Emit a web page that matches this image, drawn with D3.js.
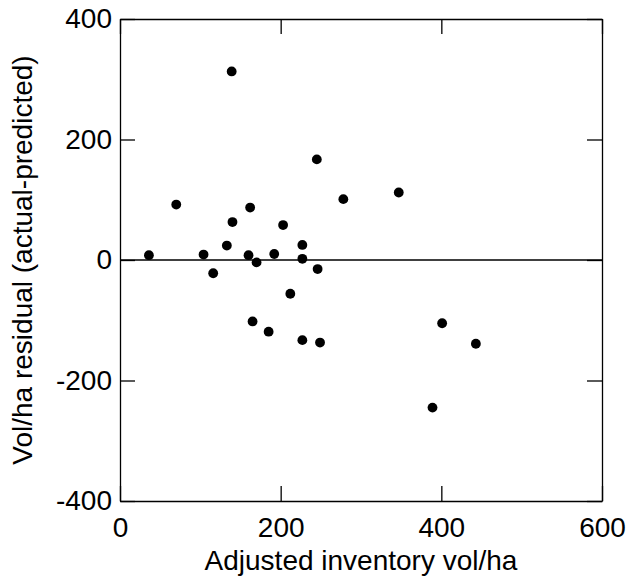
<!DOCTYPE html>
<html>
<head>
<meta charset="utf-8">
<script src="https://cdn.jsdelivr.net/npm/d3@7"></script>
<style>
  body { margin: 0; background: #fff; }
  svg text { font-family: "Liberation Sans", Arial, sans-serif; fill: #000; }
</style>
</head>
<body>
<script>
// adjusted inventory vol/ha (x) and residual actual-predicted (y)
var invVol = [36, 70, 104, 116, 133, 140, 139, 162, 160, 170, 192, 203, 227, 227, 245, 246, 212,
              278, 347, 165, 185, 227, 249, 401, 443, 389];
var residual = [8, 92, 9, -22, 24, 63, 313, 87, 8, -4, 10, 58, 25, 2, 167, -15, -56,
                101, 112, -102, -119, -133, -137, -105, -139, -245];

var xTicks = [0, 200, 400, 600];
var yTicks = [-400, -200, 0, 200, 400];

var width = 628,
    height = 580;
var margin = {top: 19, right: 26, bottom: 79, left: 120};

var svg = d3.select("body")
    .append("svg")
    .attr("width", width)
    .attr("height", height);

var x = d3.scaleLinear()
    .domain([0, 600])
    .range([margin.left, width - margin.right]);

var y = d3.scaleLinear()
    .domain([-400, 400])
    .range([height - margin.bottom, margin.top]);

//plain hyphen for negatives, like the original
var fmt = function(d){ return String(d); };

//axes, ticks pointing inward on all four sides
svg.append("g")
    .attr("transform", "translate(0," + y(-400) + ")")
    .call(d3.axisBottom(x).tickValues(xTicks).tickFormat(fmt).tickSize(-15).tickPadding(16).tickSizeOuter(0));

svg.append("g")
    .attr("transform", "translate(" + x(0) + ",0)")
    .call(d3.axisLeft(y).tickValues(yTicks).tickFormat(fmt).tickSize(-15).tickPadding(8).tickSizeOuter(0));

svg.append("g")
    .attr("transform", "translate(0," + y(400) + ")")
    .call(d3.axisTop(x).tickValues(xTicks).tickSize(-15).tickFormat("").tickSizeOuter(0));

svg.append("g")
    .attr("transform", "translate(" + x(600) + ",0)")
    .call(d3.axisRight(y).tickValues(yTicks).tickSize(-15).tickFormat("").tickSizeOuter(0));

svg.selectAll(".domain, .tick line")
    .attr("stroke", "#000")
    .attr("stroke-width", 1.3);

svg.selectAll(".tick text")
    .attr("font-size", 28)
    .attr("font-family", "Liberation Sans, Arial, sans-serif");

//zero line
svg.append("line")
    .attr("x1", x(0))
    .attr("x2", x(600))
    .attr("y1", y(0))
    .attr("y2", y(0))
    .attr("stroke", "#000")
    .attr("stroke-width", 1.3);

//points
svg.selectAll(".pt")
    .data(invVol)
    .enter()
    .append("circle")
    .attr("class", "pt")
    .attr("cx", function(d){ return x(d); })
    .attr("cy", function(d, i){ return y(residual[i]); })
    .attr("r", 4.9)
    .attr("fill", "#000");

//axis titles
svg.append("text")
    .attr("x", x(300))
    .attr("y", 570)
    .attr("text-anchor", "middle")
    .attr("font-size", 28)
    .text("Adjusted inventory vol/ha");

svg.append("text")
    .attr("transform", "translate(32," + y(0) + ") rotate(-90)")
    .attr("text-anchor", "middle")
    .attr("font-size", 28)
    .text("Vol/ha residual (actual-predicted)");
</script>
</body>
</html>
